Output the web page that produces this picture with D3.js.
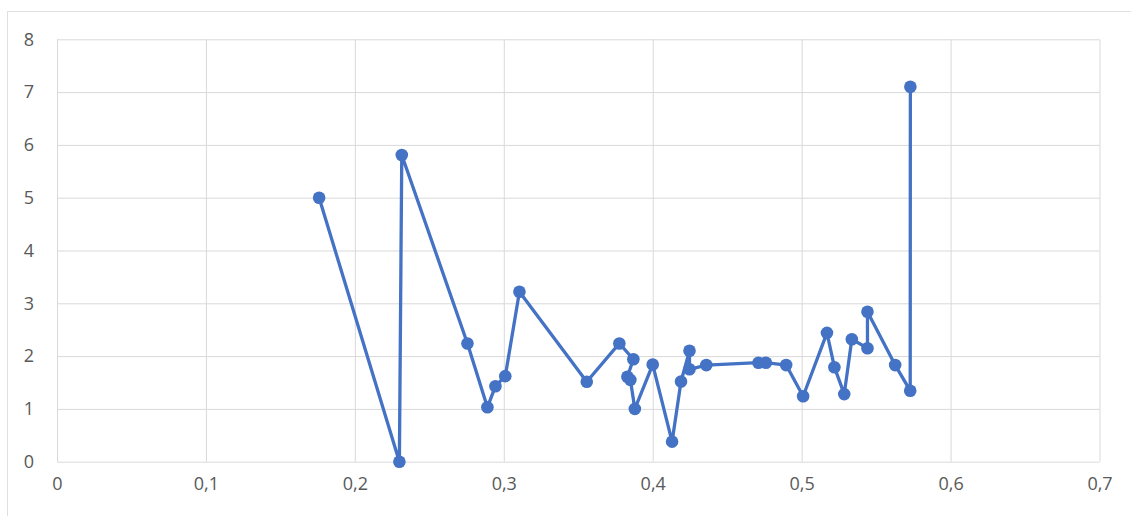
<!DOCTYPE html>
<html>
<head>
<meta charset="utf-8">
<script src="https://cdn.jsdelivr.net/npm/d3@7"></script>
<style>
  html, body { margin: 0; padding: 0; background: #fff; }
  svg { display: block; }
</style>
</head>
<body>
<svg id="chart" width="1131" height="516"></svg>
<script>
// ---- data ----
const xValues = [0.176, 0.2299, 0.2315, 0.2756, 0.289, 0.2944, 0.301, 0.3105, 0.3557,
  0.3776, 0.387, 0.383, 0.385, 0.388, 0.400, 0.413, 0.419, 0.4247, 0.4247, 0.436,
  0.471, 0.476, 0.4896, 0.501, 0.517, 0.522, 0.5286, 0.5337, 0.5442, 0.5442, 0.5628, 0.5729, 0.573];
const yValues = [5.0, 0.0, 5.81, 2.24, 1.03, 1.43, 1.62, 3.22, 1.515,
  2.24, 1.94, 1.61, 1.55, 1.0, 1.84, 0.38, 1.52, 2.10, 1.75, 1.83,
  1.875, 1.875, 1.83, 1.24, 2.44, 1.79, 1.28, 2.32, 2.15, 2.84, 1.83, 1.345, 7.1];
const xTicks = [0, 0.1, 0.2, 0.3, 0.4, 0.5, 0.6, 0.7];
const yTicks = [0, 1, 2, 3, 4, 5, 6, 7, 8];

const points = xValues.map((x, i) => ({ x, y: yValues[i] }));

const svg = d3.select("#chart");
const plotLeft = 57, plotRight = 1099.5, plotTop = 39.3, plotBottom = 461.7;

const x = d3.scaleLinear().domain([0, 0.7]).range([plotLeft, plotRight]);
const y = d3.scaleLinear().domain([0, 8]).range([plotBottom, plotTop]);

// outer chart border (cropped at right/bottom)
svg.append("rect")
  .attr("x", 7.5).attr("y", 11.5)
  .attr("width", 1140).attr("height", 520)
  .attr("fill", "none").attr("stroke", "#e0e0e0").attr("stroke-width", 1);

const fmt = d => String(d).replace(".", ",");

// gridlines
svg.append("g")
  .attr("transform", `translate(0,${plotBottom})`)
  .call(d3.axisBottom(x).tickValues(xTicks).tickSize(-(plotBottom - plotTop)).tickFormat(""))
  .call(g => g.select(".domain").remove())
  .call(g => g.selectAll("line").attr("stroke", "#d9d9d9").attr("stroke-width", 1));

svg.append("g")
  .attr("transform", `translate(${plotLeft},0)`)
  .call(d3.axisLeft(y).tickValues(yTicks).tickSize(-(plotRight - plotLeft)).tickFormat(""))
  .call(g => g.select(".domain").remove())
  .call(g => g.selectAll("line").attr("stroke", "#d9d9d9").attr("stroke-width", 1));

// tick labels
const xAxis = svg.append("g")
  .attr("transform", `translate(0,${plotBottom})`)
  .call(d3.axisBottom(x).tickValues(xTicks).tickSize(0).tickPadding(23).tickFormat(fmt));
xAxis.select(".domain").remove();
xAxis.selectAll("text")
  .attr("font-family", "'Open Sans', 'Noto Sans', sans-serif")
  .attr("font-size", 18).attr("fill", "#595959").attr("dy", "0.32em");

const yAxis = svg.append("g")
  .attr("transform", `translate(${plotLeft},0)`)
  .call(d3.axisLeft(y).tickValues(yTicks).tickSize(0).tickPadding(22).tickFormat(fmt));
yAxis.select(".domain").remove();
yAxis.selectAll("text")
  .attr("font-family", "'Open Sans', 'Noto Sans', sans-serif")
  .attr("font-size", 18).attr("fill", "#595959")
  .attr("text-anchor", "middle").attr("x", 29 - plotLeft);

// line
const line = d3.line().x(d => x(d.x)).y(d => y(d.y));
svg.append("path")
  .datum(points)
  .attr("d", line)
  .attr("fill", "none")
  .attr("stroke", "#4472C4")
  .attr("stroke-width", 3.3)
  .attr("stroke-linejoin", "round");

// markers
svg.append("g").selectAll("circle")
  .data(points)
  .join("circle")
  .attr("cx", d => x(d.x))
  .attr("cy", d => y(d.y))
  .attr("r", 6.3)
  .attr("fill", "#4472C4");
</script>
</body>
</html>
